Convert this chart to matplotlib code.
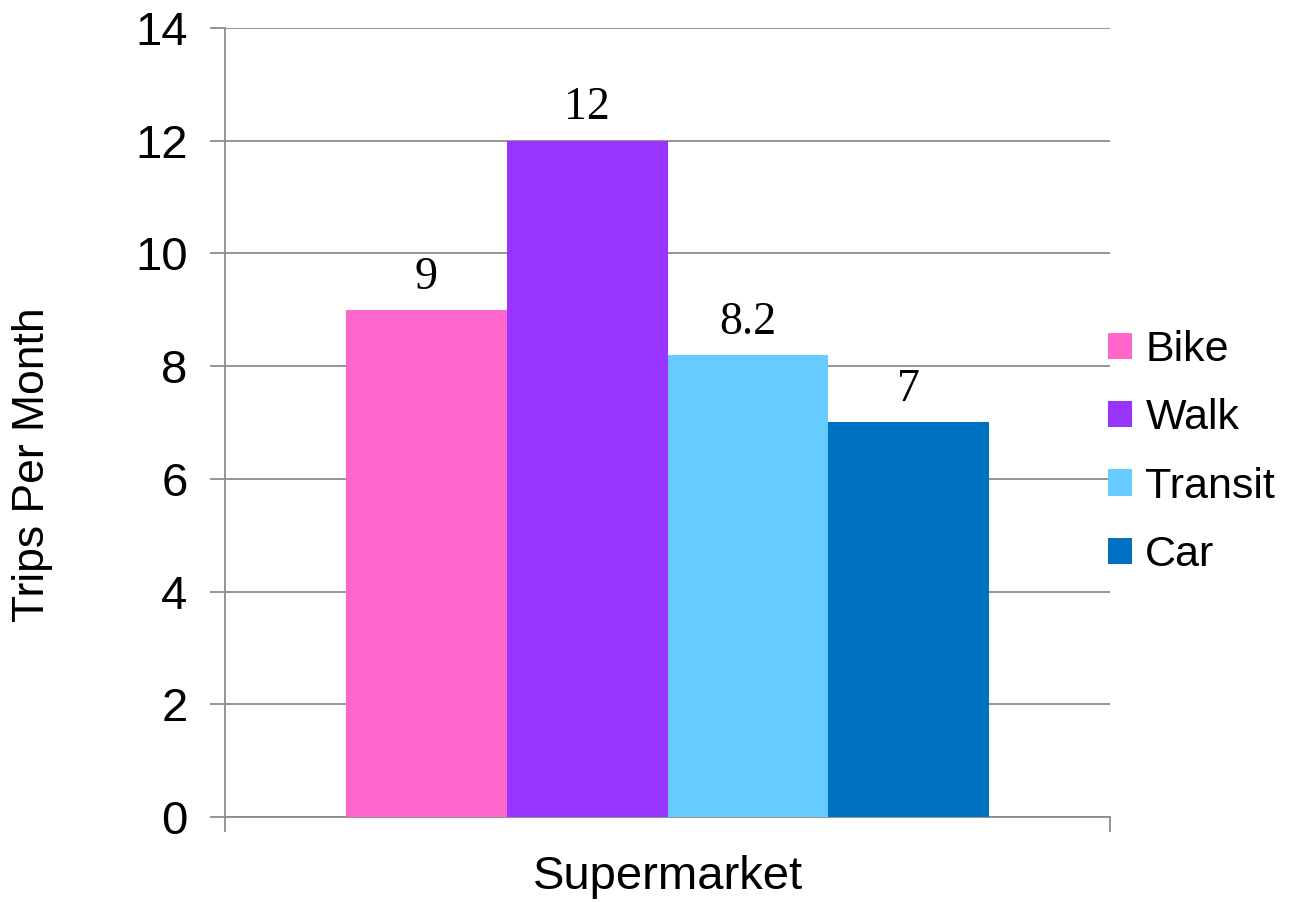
import numpy as np
import matplotlib.pyplot as plt

category = "Supermarket"
modes = ["Bike", "Walk", "Transit", "Car"]
trips = [9, 12, 8.2, 7]
labels = ["9", "12", "8.2", "7"]
colors = ["#ff66cc", "#9933ff", "#66ccff", "#0070c0"]

plt.rcParams['font.family'] = ['Liberation Sans', 'DejaVu Sans']

fig = plt.figure(figsize=(12.97, 9.02), dpi=100)
ax = fig.add_axes([0.1735, 0.0942, 0.6824, 0.8748])

w = 0.1816
for i, (m, v, c, lab) in enumerate(zip(modes, trips, colors, labels)):
    x = (i - 1.5) * w
    ax.bar(x, v, width=w, color=c, label=m, zorder=3)
    ax.text(x, v + 0.2, lab, ha='center', va='bottom',
            family='Liberation Serif', fontsize=33)

ax.set_xlim(-0.5, 0.5)
ax.set_ylim(0, 14)
ax.set_yticks(np.arange(0, 15, 2))
ax.set_xticks([-0.5, 0.5])
ax.set_xticklabels(["", ""])
ax.yaxis.grid(True, color='#8c8c8c', linewidth=1.3, zorder=0)
ax.tick_params(axis='y', length=11, width=1.3, color='#8c8c8c', labelsize=34, pad=16)
ax.tick_params(axis='x', length=11, width=1.3, color='#8c8c8c')
for s in ['top', 'right']:
    ax.spines[s].set_visible(False)
for s in ['left', 'bottom']:
    ax.spines[s].set_color('#8c8c8c')
    ax.spines[s].set_linewidth(1.3)

ax.set_xlabel(category, fontsize=34, labelpad=13)
ax.set_ylabel("Trips Per Month", fontsize=32)
ax.yaxis.set_label_coords(-0.194, 0.446)

ax.legend(loc='center left', bbox_to_anchor=(0.998, 0.462), frameon=False,
          fontsize=31, handlelength=0.56, handleheight=0.56, handletextpad=0.3,
          labelspacing=0.66, borderpad=0, borderaxespad=0)

fig.savefig("out.png", dpi=100)
